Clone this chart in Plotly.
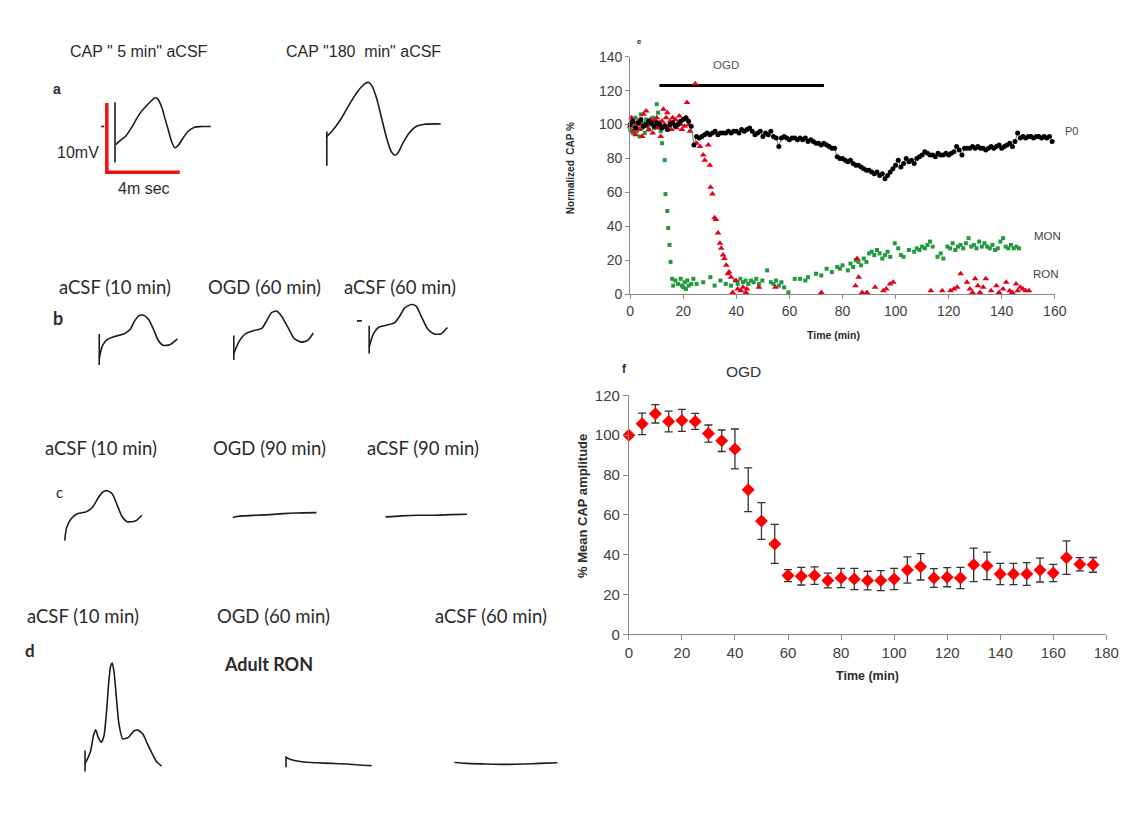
import plotly.graph_objects as go

W, H = 1140, 840

# ---------------- panel e : normalized CAP traces ----------------
p0_time = list(range(0, 160))
p0_cap = [100, 102, 98, 101, 103, 99, 100, 102, 101, 99,
          101, 100, 98, 99, 97, 100, 101, 99, 100, 102,
          103, 104, 102, 99, 88, 93, 92, 93, 94, 95,
          94, 95, 96, 94, 95, 95, 95, 96, 95, 96,
          96, 95, 97, 96, 97, 98, 96, 94, 95, 96,
          93, 95, 94, 96, 93, 92, 87, 92, 93, 92,
          91, 92, 92, 91, 92, 91, 92, 90, 91, 90,
          89, 89, 88, 89, 88, 87, 86, 86, 81, 80,
          80, 79, 78, 79, 77, 76, 76, 75, 74, 73,
          73, 72, 71, 72, 70, 71, 68, 70, 72, 74,
          76, 79, 75, 77, 80, 78, 79, 77, 80, 81,
          82, 84, 83, 82, 82, 81, 83, 82, 82, 83,
          82, 83, 84, 87, 85, 82, 86, 86, 86, 87,
          86, 87, 86, 86, 85, 86, 87, 86, 87, 88,
          86, 87, 88, 89, 87, 90, 95, 92, 93, 92,
          93, 93, 92, 93, 93, 92, 93, 92, 93, 90]

mon_time = [0, 0.5, 1, 1.5, 2, 2.5, 3, 3.5, 4, 4.5, 5, 5.5, 6, 6.5, 7, 7.5, 8, 8.5, 9, 9.5,
            10, 10.5, 11, 11.5, 12, 13, 13.3, 14, 14.3, 14.8, 15.2, 15.8, 16.2, 17, 18, 19,
            19.5, 20, 20.5, 21, 21.5, 22, 23, 23.8, 25, 27.5, 30.2, 31.8, 34, 36, 38, 39.5,
            40.5, 41.5, 42.5, 43.5, 44.5, 45.5, 46.5, 47.5, 48.5, 49.8, 51.6, 53, 54, 55, 56,
            57, 58, 59.6, 62, 64, 66, 67, 70, 72, 74, 76, 78, 79, 80, 82, 83, 84, 85, 86, 87,
            88, 89, 90, 91, 92, 93, 94, 95, 96, 97, 98, 99.7, 101, 102, 103, 105, 107, 108,
            109, 110, 111, 112, 113, 114, 115.8, 117, 118, 119.5, 120.5, 121.5, 122.5, 123.5,
            124.5, 125.5, 126.5, 127.5, 128.5, 129.5, 130.5, 131.5, 132.5, 133.5, 134.5,
            135.5, 136.5, 137.5, 138.5, 139.5, 140.5, 141.5, 142.5, 143.5, 144.5, 145.5, 146.5]
mon_cap = [97, 102, 95, 99, 104, 96, 100, 93, 106, 98, 101, 95, 103, 99, 97, 102, 100, 104, 98, 103,
           112, 107, 101, 96, 89, 79, 59, 49, 39, 29, 19, 9, 5, 8, 6, 9,
           5, 4, 7, 3, 8, 5, 6, 9, 6, 7, 10, 5, 8, 6, 5, 8,
           6, 9, 7, 8, 6, 8, 7, 9, 6, 8, 14, 7, 6, 8, 5,
           7, 4, 1, 9, 9, 8, 10, 12, 11, 15, 13, 16, 15, 17, 14, 18, 16, 20, 19, 17,
           21, 19, 24, 25, 23, 26, 24, 21, 23, 25, 22, 30, 27, 23, 22, 26, 25, 27,
           26, 28, 27, 29, 31, 28, 22, 24, 21, 28, 27, 30, 26, 28,
           29, 27, 30, 33, 28, 29, 27, 31, 28, 30, 28,
           27, 29, 26, 27, 31, 33, 28, 27, 29, 27, 28, 27]

ron_time = [0, 0.5, 1, 1.5, 2, 2.5, 3, 3.5, 4, 4.5, 5, 5.5, 6, 6.5, 7, 7.5, 8, 8.5, 9, 9.5,
            10, 10.5, 11, 11.5, 12, 12.5, 13, 13.5, 14, 14.5, 15, 15.5, 16, 16.5, 17, 17.5,
            18, 18.5, 19, 19.5, 20, 20.5, 21, 21.4, 22, 22.5, 24.5, 25, 26.3, 27.5, 28.1,
            29.4, 30, 30.3, 31, 31.8, 32.3, 33.1, 33.8, 34.3, 35, 35.5, 36.2, 36.8, 37.3, 38,
            38.6, 39.9, 40.5, 41.7, 42.5, 43.6, 44, 48.5, 54.7, 72, 84.9, 85.5, 86.1, 87.4,
            89.2, 92.3, 95.4, 96.5, 97.9, 99.1, 113.3, 117.6, 120.7, 122, 123.2, 124.5, 126.9,
            128, 129, 130, 131, 131.8, 133, 134, 136, 138, 139, 140.5, 141.7, 143, 144, 145.4,
            146, 147, 148, 149, 150.3]
ron_cap = [99, 104, 96, 101, 94, 98, 102, 97, 100, 93, 106, 99, 108, 101, 97, 103, 100, 95, 102, 99,
           104, 98, 101, 93, 102, 109, 100, 104, 107, 99, 102, 97, 104, 100, 103, 98,
           101, 105, 100, 97, 103, 99, 104, 113, 100, 96, 124, 89, 87, 82, 79,
           88, 76, 63, 59, 45, 44, 36, 30, 27, 23, 21, 17, 12, 13, 10,
           1, 8, 3, 2, 4, 1, 3, 4, 4, 1, 5, 21, 10, 1,
           1, 4, 2, 3, 6, 7, 2, 2, 2, 3, 4, 12, 7,
           3, 1, 9, 5, 1, 4, 9, 2, 5, 1, 3, 7, 2, 1, 6,
           2, 4, 3, 2, 2]

e_ticks_x = [0, 20, 40, 60, 80, 100, 120, 140, 160]
e_ticks_y = [0, 20, 40, 60, 80, 100, 120, 140]
e_ogd_time = [11, 73]
e_ogd_level = [123, 123]

# ---------------- panel f : mean CAP amplitude ----------------
f_time = [0, 5, 10, 15, 20, 25, 30, 35, 40, 45, 50, 55, 60, 65, 70, 75, 80, 85, 90, 95,
          100, 105, 110, 115, 120, 125, 130, 135, 140, 145, 150, 155, 160, 165, 170, 175]
f_mean = [100, 105.7, 110.7, 106.9, 107.4, 106.9, 100.8, 97.2, 93.1, 72.6, 56.9, 45.4,
          29.5, 29.2, 29.5, 27.0, 28.3, 27.8, 27.0, 27.0, 27.8, 32.3, 33.9, 28.3, 28.7,
          28.3, 34.9, 34.4, 30.3, 30.3, 30.3, 32.3, 30.8, 38.5, 35.2, 34.9]
f_sem = [0, 5.4, 4.6, 5.2, 5.5, 4.0, 4.3, 5.4, 10.0, 11.0, 9.2, 9.8,
         3.0, 4.4, 4.4, 3.7, 4.8, 5.3, 4.7, 5.0, 5.3, 6.6, 6.6, 4.7, 4.8,
         5.3, 8.4, 6.9, 5.3, 5.3, 5.7, 6.0, 4.3, 8.4, 3.3, 3.7]
f_ticks_x = [0, 20, 40, 60, 80, 100, 120, 140, 160, 180]
f_ticks_y = [0, 20, 40, 60, 80, 100, 120]
f_ogd_time = [10, 101]
f_ogd_level = [122, 122]

# ---------------- example CAP recordings (time in ms, voltage in mV) ----------------
a_scale_t = [-0.45, -0.45, 3.55]
a_scale_v = [3.4, -6.6, -6.6]

a1_t = [-0.77, -0.59, None, 0, 0, None,
        0.04, 0.25, 0.58, 0.94, 1.30, 1.75, 2.20, 2.34, 2.56, 2.74, 2.92, 3.10, 3.28, 3.46,
        3.73, 4.00, 4.36, 4.72, 5.26]
a1_v = [0, 0, None, 3.5, -5.2, None,
        -2.6, -2.1, -1.4, 0, 1.65, 3.07, 4.15, 4.0, 2.83, 1.18, -0.47, -2.12, -3.07, -2.74,
        -1.65, -0.71, -0.09, 0, 0]

a2_t = [0, 0, None,
        0, 0.22, 0.49, 0.85, 1.21, 1.66, 2.11, 2.29, 2.47, 2.74, 3.01, 3.28, 3.55, 3.73, 3.91,
        4.18, 4.54, 4.90, 5.35, 6.25]
a2_v = [-1.08, -6.04, None,
        -1.79, -1.23, -0.38, 1.04, 2.69, 4.58, 5.85, 5.99, 5.52, 3.63, 0.80, -2.03, -4.06,
        -4.53, -4.15, -2.74, -1.23, -0.38, -0.05, 0]

b1_t = [0, 0, None, 0, 0.18, 0.45, 0.90, 1.35, 1.71, 1.89, 2.16, 2.43, 2.70, 2.97, 3.24,
        3.51, 3.87, 4.29]
b1_v = [1.65, -2.83, None, -1.89, 0, 0.85, 1.32, 1.65, 2.36, 3.30, 4.25, 4.34, 3.77, 2.36,
        0.71, 0, 0.09, 0.94]

b2_t = [0, 0, None, 0, 0.27, 0.63, 1.08, 1.53, 1.80, 2.07, 2.34, 2.61, 2.97, 3.33, 3.69,
        4.05, 4.36]
b2_v = [0.71, -2.83, None, -1.89, -0.24, 0.94, 1.42, 1.75, 2.83, 4.01, 4.25, 3.54, 1.89,
        0.24, -0.24, 0, 1.08]

b3_t = [-0.67, -0.40, None, 0, 0, None, 0, 0.23, 0.50, 0.95, 1.41, 1.68, 1.95, 2.31, 2.58,
        2.85, 3.21, 3.57, 3.93, 4.29]
b3_v = [1.89, 1.89, None, 1.18, -2.83, None, -1.89, 0, 0.94, 1.27, 1.65, 2.59, 3.77, 4.25,
        4.01, 2.59, 0.71, 0, 0, 0.94]

c1_t = [0, 0.09, 0.36, 0.72, 1.17, 1.53, 1.80, 2.07, 2.34, 2.61, 2.88, 3.15, 3.42, 3.87, 4.23]
c1_v = [-2.74, -0.94, 0.47, 1.18, 1.42, 2.12, 3.30, 4.25, 4.48, 4.01, 2.36, 0.71, 0, 0.09, 0.94]

c2_t = [0, 0.23, 0.59, 1.32, 2.04, 2.76, 3.48, 4.59]
c2_v = [-0.33, -0.19, -0.09, 0, 0.09, 0.24, 0.33, 0.38]

c3_t = [0, 0.86, 1.77, 2.67, 3.57, 4.47]
c3_v = [-0.24, -0.09, 0, 0, 0.09, 0.14]

d1_t = [0, 0, None, 0, 0.14, 0.31, 0.46, 0.58, 0.72, 0.89, 1.04, 1.18, 1.30, 1.41, 1.49,
        1.59, 1.72, 1.86, 2.07, 2.38, 2.69, 2.90, 3.17, 3.42, 3.73, 3.93, 4.20]
d1_v = [2.26, -0.80, None, 0.38, 1.08, 2.26, 4.39, 5.24, 4.15, 3.44, 4.39, 7.92, 12.17,
        14.53, 14.86, 13.58, 9.81, 6.04, 3.92, 4.15, 5.09, 5.19, 4.62, 3.21, 1.56, 0.61, 0]

d2_t = [0, 0, None, 0, 0.25, 0.87, 1.70, 2.53, 3.35, 3.98, 4.70]
d2_v = [1.37, -0.24, None, 1.18, 0.90, 0.57, 0.42, 0.33, 0.24, 0.09, 0]

d3_t = [0, 0.72, 1.76, 2.79, 3.83, 4.66, 5.65]
d3_v = [0.14, 0, -0.09, -0.14, -0.09, 0, 0.09]

# ---------------- figure ----------------
SX, SY = 18.5, 7.07   # px per ms, px per mV for the example traces
FONT_A = "Liberation Sans, Arial, sans-serif"
FONT_B = "Lato, Carlito, sans-serif"
TXT = "#2b2b2b"

fig = go.Figure()
layout = dict(width=W, height=H, margin=dict(l=0, r=0, t=0, b=0),
              paper_bgcolor="white", plot_bgcolor="rgba(0,0,0,0)", showlegend=False)


def pxx(p):
    return p / W


def pxy(p):
    return 1 - p / H


axis_common = dict(showline=True, linecolor="#8a8a8a", linewidth=1, ticks="outside",
                   ticklen=4, tickcolor="#8a8a8a", showgrid=False, zeroline=False)
layout["xaxis"] = dict(axis_common, domain=[pxx(635.7), pxx(1066.7)], range=[0, 160],
                       tickvals=e_ticks_x, anchor="y",
                       tickfont=dict(family=FONT_A, color="#404040", size=14))
layout["yaxis"] = dict(axis_common, domain=[pxy(291), pxy(48.7)], range=[0, 140],
                       tickvals=e_ticks_y, anchor="x",
                       tickfont=dict(family=FONT_A, color="#404040", size=14))
layout["xaxis2"] = dict(axis_common, domain=[pxx(634.3), pxx(1119)], range=[0, 180],
                        tickvals=f_ticks_x, anchor="y2", ticklen=5,
                        tickfont=dict(family=FONT_A, color="#404040", size=15))
layout["yaxis2"] = dict(axis_common, domain=[pxy(638.3), pxy(394.3)], range=[0, 120],
                        tickvals=f_ticks_y, anchor="x2", ticklen=5,
                        tickfont=dict(family=FONT_A, color="#404040", size=15))

# e traces
fig.add_trace(go.Scatter(x=e_ogd_time, y=e_ogd_level, mode="lines",
                         line=dict(color="black", width=3), xaxis="x", yaxis="y"))
fig.add_trace(go.Scatter(x=mon_time, y=mon_cap, mode="markers", name="MON",
                         marker=dict(symbol="square", size=4, color="#1f9a3c"),
                         xaxis="x", yaxis="y", cliponaxis=False))
fig.add_trace(go.Scatter(x=ron_time, y=ron_cap, mode="markers", name="RON",
                         marker=dict(symbol="triangle-up", size=6, color="#e3001b"),
                         xaxis="x", yaxis="y", cliponaxis=False))
fig.add_trace(go.Scatter(x=p0_time, y=p0_cap, mode="markers+lines", name="P0",
                         marker=dict(symbol="circle", size=5, color="black"),
                         line=dict(color="#555", width=0.8),
                         xaxis="x", yaxis="y", cliponaxis=False))

# f traces
fig.add_trace(go.Scatter(x=f_ogd_time, y=f_ogd_level, mode="lines",
                         line=dict(color="black", width=4), xaxis="x2", yaxis="y2",
                         cliponaxis=False))
fig.add_trace(go.Scatter(x=f_time, y=f_mean, mode="markers",
                         error_y=dict(type="data", array=f_sem, color="#333333",
                                      thickness=1.3, width=4),
                         marker=dict(symbol="diamond", size=10, color="#ff0000"),
                         xaxis="x2", yaxis="y2", cliponaxis=False))

# example traces, each on its own hidden axes
waves = [
    ("a1", 112.7, 120.0, [-1, 6], [-7.5, 7], a1_t, a1_v),
    ("a2", 327.7, 117.3, [-1, 7], [-7, 7], a2_t, a2_v),
    ("b1", 96.7, 343.3, [-1, 5], [-4, 5], b1_t, b1_v),
    ("b2", 233.3, 338.3, [-1, 5], [-4, 5], b2_t, b2_v),
    ("b3", 370.7, 331.7, [-1, 5], [-4, 5], b3_t, b3_v),
    ("c1", 61.7, 523.3, [-1, 5], [-4, 5], c1_t, c1_v),
    ("c2", 232.3, 516.7, [-1, 6], [-2, 2], c2_t, c2_v),
    ("c3", 387.3, 516.7, [-1, 6], [-2, 2], c3_t, c3_v),
    ("d1", 82.3, 772.7, [-1, 5], [-2, 16], d1_t, d1_v),
    ("d2", 286.3, 772.3, [-1, 6], [-2, 3], d2_t, d2_v),
    ("d3", 457.3, 770.0, [-1, 7], [-2, 2], d3_t, d3_v),
]
for i, (name, x0, y0, tr, vr, tt, vv) in enumerate(waves):
    n = i + 3
    layout[f"xaxis{n}"] = dict(domain=[pxx(x0 + tr[0] * SX), pxx(x0 + tr[1] * SX)],
                               range=tr, visible=False, anchor=f"y{n}", fixedrange=True)
    layout[f"yaxis{n}"] = dict(domain=[pxy(y0 - vr[0] * SY), pxy(y0 - vr[1] * SY)],
                               range=vr, visible=False, anchor=f"x{n}", fixedrange=True)
    fig.add_trace(go.Scatter(x=tt, y=vv, mode="lines", name=name,
                             line=dict(color="#1c1c1c", width=1.6, shape="spline",
                                       smoothing=0.6),
                             connectgaps=False, xaxis=f"x{n}", yaxis=f"y{n}",
                             cliponaxis=False))
    if name == "a1":
        fig.add_trace(go.Scatter(x=a_scale_t, y=a_scale_v, mode="lines",
                                 line=dict(color="#ee1111", width=3.5),
                                 xaxis=f"x{n}", yaxis=f"y{n}", cliponaxis=False))

ann = []


def text(s, x, y, size, family=FONT_A, color=TXT, bold=False, angle=0):
    ann.append(dict(text=(f"<b>{s}</b>" if bold else s), x=pxx(x), y=pxy(y),
                    xref="paper", yref="paper", showarrow=False, textangle=angle,
                    xanchor="center", yanchor="middle",
                    font=dict(family=family, size=size, color=color)))


# panel a
text('CAP " 5 min" aCSF', 136.7, 43.3, 16)
text('CAP "180  min" aCSF', 365, 43.3, 16)
text("a", 53.3, 81.7, 14, bold=True)
text("10mV", 75.5, 146.7, 16)
text("4m sec", 142.5, 183.3, 16)
# panel b
text("aCSF (10 min)", 112.5, 283.3, 18.5, FONT_B)
text("OGD (60 min)", 264.8, 283.3, 18.5, FONT_B)
text("aCSF (60 min)", 401.8, 283.3, 18.5, FONT_B)
text("b", 55, 315, 18, FONT_B, bold=True)
# panel c
text("aCSF (10 min)", 98, 448.3, 18.5, FONT_B)
text("OGD (90 min)", 269.5, 448.3, 18.5, FONT_B)
text("aCSF (90 min)", 425, 448.3, 18.5, FONT_B)
text("c", 56, 492.7, 15, FONT_B)
# panel d
text("aCSF (10 min)", 79.8, 620, 18.5, FONT_B)
text("OGD (60 min)", 274, 620, 18.5, FONT_B)
text("aCSF (60 min)", 494.6, 620, 18.5, FONT_B)
text("d", 26.8, 655, 17, FONT_B, bold=True)
text("Adult RON", 268.5, 668.3, 18, FONT_B, bold=True)
# panel e
text("e", 645, 33, 8, bold=True)
text("OGD", 733.3, 56.7, 11.5, color="#555555")
text("P0", 1084, 125, 11, color="#444444")
text("MON", 1059.5, 231.7, 11.5, color="#444444")
text("RON", 1058, 270.7, 11.5, color="#444444")
text("Normalized  CAP %", 575, 162, 10, bold=True, angle=-90)
text("Time (min)", 841.7, 333, 10.5, bold=True)
# panel f
text("f", 630, 367, 12, bold=True)
text("OGD", 750.7, 370, 15.5, color="#333333")
text("% Mean CAP amplitude", 588, 507, 13, bold=True, angle=-90)
text("Time (min)", 877, 680.7, 12.5, bold=True)

layout["annotations"] = ann
fig.update_layout(**layout)
fig.write_html(
    "out.html",
    config={"displayModeBar": False},
    post_script="document.body.style.margin='0';document.body.style.overflow='hidden';",
)
